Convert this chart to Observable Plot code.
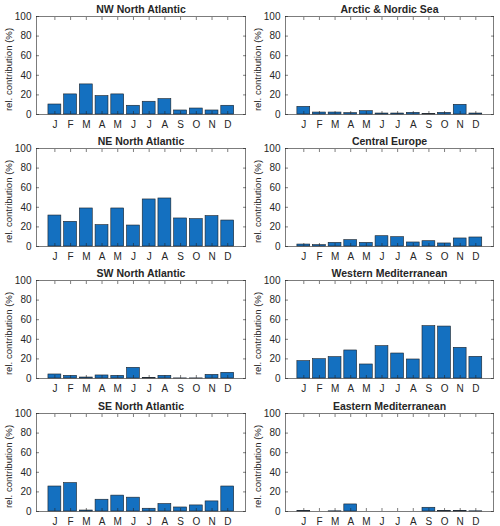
<!DOCTYPE html>
<html>
<head>
<meta charset="utf-8">
<script src="https://cdn.jsdelivr.net/npm/d3@7"></script>
<script src="https://cdn.jsdelivr.net/npm/@observablehq/plot@0.6"></script>
<style>
  html, body { margin: 0; padding: 0; background: #fff; }
  #fig { position: relative; width: 500px; height: 526px; overflow: hidden; }
  #fig svg { position: absolute; overflow: visible; }
</style>
</head>
<body>
<div id="fig"></div>
<script>
// Month tick labels
const months = ["J", "F", "M", "A", "M", "J", "J", "A", "S", "O", "N", "D"];
const yTicks = [0, 20, 40, 60, 80, 100];
const yLabel = "rel. contribution (%)";

// Relative contribution (%) per region, January..December
const nwNorthAtlantic   = [10.2, 20.5, 30.7, 18.8, 20.5, 8.9, 13.0, 15.7, 4.1, 6.1, 4.1, 8.9];
const arcticNordicSea   = [7.8, 2.0, 2.0, 1.4, 3.4, 1.0, 1.0, 1.7, 0.4, 1.7, 9.9, 1.0];
const neNorthAtlantic   = [31.6, 25.2, 38.8, 21.8, 38.8, 21.4, 48.0, 49.0, 28.6, 27.9, 31.0, 26.5];
const centralEurope     = [2.0, 1.4, 3.7, 6.5, 3.7, 10.5, 9.5, 4.1, 5.4, 3.1, 8.2, 9.2];
const swNorthAtlantic   = [4.1, 2.7, 1.0, 3.1, 2.7, 10.9, 0.7, 2.7, 0.1, 0.1, 3.7, 5.8];
const westernMed        = [17.7, 19.7, 21.8, 28.6, 14.3, 33.0, 25.5, 19.4, 53.4, 53.0, 31.3, 22.1];
const seNorthAtlantic   = [25.5, 29.0, 1.0, 12.0, 16.2, 14.1, 2.8, 7.6, 4.1, 6.2, 10.3, 25.5];
const easternMed        = [0.7, 0, 0.2, 7.2, 0, 0, 0, 0, 3.8, 0.7, 0.7, 0.2];

const panels = [
  {title: "NW North Atlantic", values: nwNorthAtlantic},
  {title: "Arctic & Nordic Sea", values: arcticNordicSea},
  {title: "NE North Atlantic", values: neNorthAtlantic},
  {title: "Central Europe", values: centralEurope},
  {title: "SW North Atlantic", values: swNorthAtlantic},
  {title: "Western Mediterranean", values: westernMed},
  {title: "SE North Atlantic", values: seNorthAtlantic},
  {title: "Eastern Mediterranean", values: easternMed}
];

const ink = "#262626";
const barFill = "#1470c0";
const font = "'Liberation Sans', Arial, Helvetica, sans-serif";
const frameTops = [16, 148, 280, 413];
const frameH = 98;
const mTop = 16, mBottom = 18;

const fig = document.getElementById("fig");

panels.forEach((p, k) => {
  const col = k % 2, row = Math.floor(k / 2);
  const data = p.values.map((v, i) => ({m: i + 1, v}));
  const marginLeft = col === 0 ? 36 : 35;
  const marginRight = col === 0 ? 5 : 7;
  const svg = Plot.plot({
    width: 250,
    height: mTop + frameH + mBottom,
    marginLeft, marginRight,
    marginTop: mTop, marginBottom: mBottom,
    style: {fontFamily: font, color: ink, background: "transparent", overflow: "visible"},
    x: {domain: [-0.17, 13.13], axis: null},
    y: {domain: [0, 100], axis: null},
    marks: [
      Plot.rect(data, {
        x1: d => d.m - 0.41, x2: d => d.m + 0.41,
        y1: 0, y2: "v",
        fill: barFill, stroke: "#1b2026", strokeWidth: 0.6
      }),
      Plot.frame({stroke: ink, strokeWidth: 0.6}),
      // left axis with labels, ticks pointing inward
      Plot.axisY({
        anchor: "left", ticks: yTicks, tickSize: -3, tickPadding: 8,
        stroke: ink, strokeWidth: 0.6, fontSize: 10, fill: ink, label: null
      }),
      Plot.axisY({
        anchor: "right", ticks: yTicks, tickSize: -3, tickFormat: () => "",
        stroke: ink, strokeWidth: 0.6, label: null
      }),
      Plot.axisX({
        anchor: "bottom", ticks: d3.range(1, 13), tickSize: -3, tickPadding: 9,
        tickFormat: i => months[i - 1],
        stroke: ink, strokeWidth: 0.6, fontSize: 10, fill: ink, label: null
      }),
      Plot.axisX({
        anchor: "top", ticks: d3.range(1, 13), tickSize: -3, tickFormat: () => "",
        stroke: ink, strokeWidth: 0.6, label: null
      }),
      Plot.text([yLabel], {
        text: d => d, frameAnchor: "left", textAnchor: "middle",
        rotate: -90, dx: -28, dy: 4,
        fontSize: 9.6, fill: ink
      }),
      Plot.text([p.title], {
        text: d => d, frameAnchor: "top", lineAnchor: "middle", dy: -7,
        fontSize: 10.5, fontWeight: "bold", fill: ink
      })
    ]
  });
  svg.style.left = (col * 250) + "px";
  svg.style.top = (frameTops[row] - mTop) + "px";
  fig.appendChild(svg);
});
</script>
</body>
</html>
